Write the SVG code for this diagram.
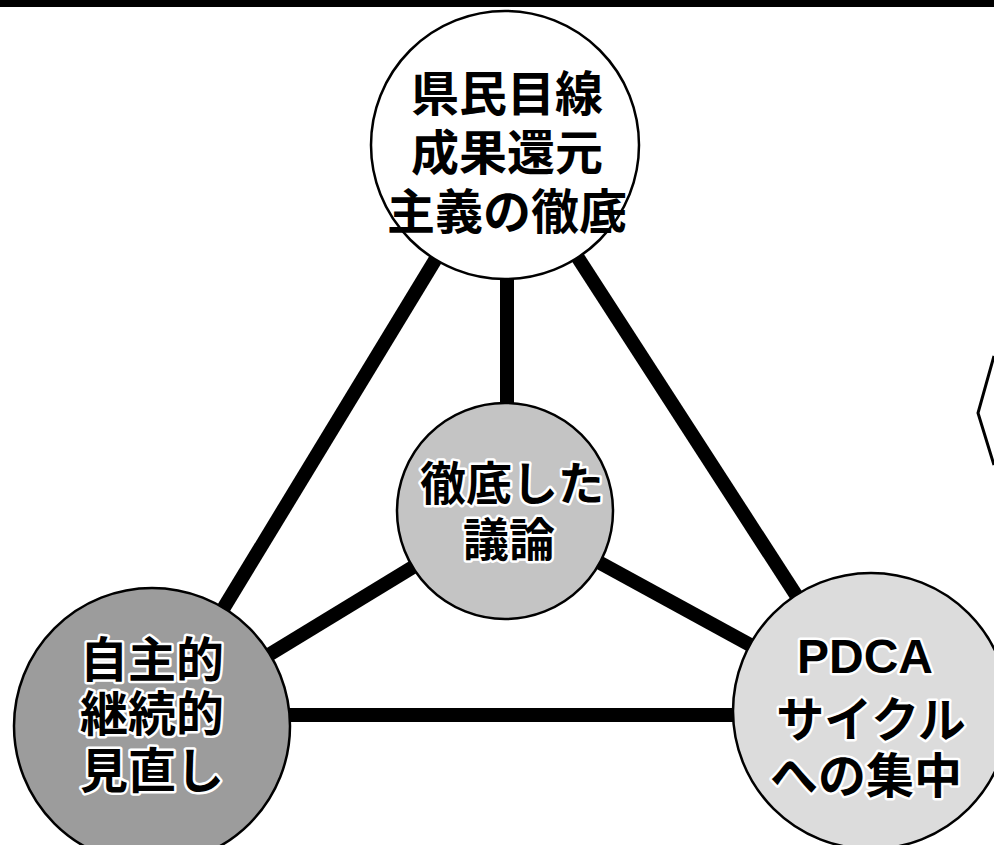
<svg xmlns="http://www.w3.org/2000/svg" width="994" height="845" viewBox="0 0 994 845">
<defs>
<style>
.c{stroke:#000;stroke-width:2.5}
.t{font-family:"Liberation Sans","Noto Sans CJK JP",sans-serif;font-size:48px;font-weight:bold;text-anchor:middle;fill:#000}
.h{stroke:#fff;stroke-width:5;paint-order:stroke;stroke-linejoin:round}
.e{stroke:#000;stroke-width:14;fill:none}
</style>
</defs>
<rect x="0" y="0" width="994" height="846" fill="#fff"/>
<rect x="0" y="0" width="994" height="7" fill="#000"/>
<g id="connectors">
<line class="e" x1="505" y1="145" x2="152" y2="726"/>
<line class="e" x1="505" y1="145" x2="871" y2="711"/>
<line class="e" x1="507" y1="145" x2="507" y2="511"/>
<line class="e" x1="505" y1="511" x2="152" y2="726"/>
<line class="e" x1="505" y1="511" x2="871" y2="711"/>
<line class="e" x1="152" y1="715" x2="871" y2="715"/>
</g>
<g id="callout">
<polyline points="994,356 978,413 994,465" fill="none" stroke="#000" stroke-width="3"/>
</g>
<g id="n-top">
<circle class="c" cx="505" cy="145" r="134" fill="#fff"/>
<text class="t" x="507" y="111">県民目線</text>
<text class="t" x="507" y="170">成果還元</text>
<text class="t" x="507" y="229">主義の徹底</text>
</g>
<g id="n-center">
<circle class="c" cx="505" cy="511" r="108" fill="#c4c4c4"/>
<text class="t h" x="512" y="500" style="font-size:46px">徹底した</text>
<text class="t h" x="509" y="556" style="font-size:46px">議論</text>
</g>
<g id="n-left">
<circle class="c" cx="152" cy="726" r="138" fill="#9c9c9c"/>
<text class="t h" x="152" y="677">自主的</text>
<text class="t h" x="152" y="731">継続的</text>
<text class="t h" x="152" y="788">見直し</text>
</g>
<g id="n-right">
<circle class="c" cx="871" cy="711" r="138" fill="#dcdcdc"/>
<text class="t h" x="865" y="673">PDCA</text>
<text class="t h" x="871" y="737">サイクル</text>
<text class="t h" x="866" y="793">への集中</text>
</g>
</svg>
